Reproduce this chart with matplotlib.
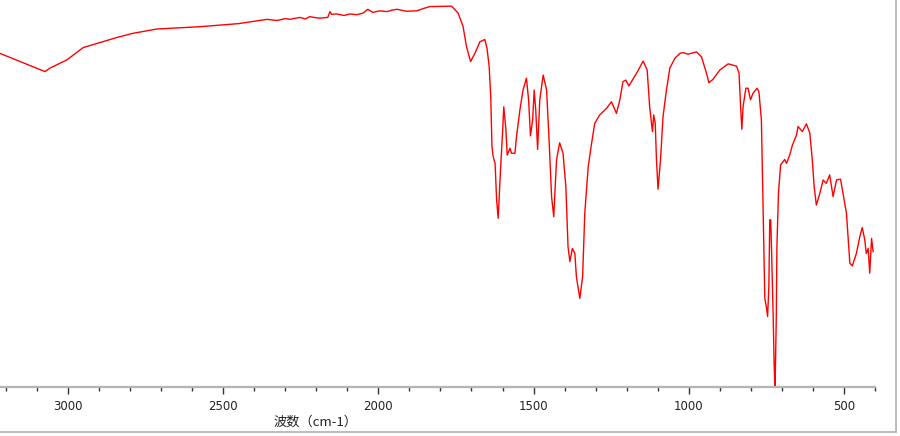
import matplotlib
matplotlib.use("Agg")
import matplotlib.pyplot as plt
from matplotlib.ticker import MultipleLocator
from matplotlib.lines import Line2D

plt.rcParams['font.family'] = ['Noto Sans CJK SC', 'DejaVu Sans']

# Wavenumber (cm-1) and transmittance (%)
wavenumber = [
    3219, 3074, 3058, 3004, 2951, 2897, 2843, 2790, 2714, 2575, 2450, 2359, 2327,
    2300, 2285, 2253, 2235, 2221, 2200, 2188, 2163, 2156, 2151, 2135, 2110, 2092,
    2070, 2050, 2034, 2018, 1995, 1973, 1955, 1940, 1910, 1876, 1855, 1834, 1764,
    1743, 1727, 1716, 1703, 1689, 1673, 1657, 1650, 1643, 1638, 1634, 1630, 1624,
    1619, 1614, 1606, 1600, 1596, 1589, 1585, 1576, 1571, 1560, 1555, 1544, 1534,
    1523, 1516, 1510, 1503, 1498, 1493, 1487, 1480, 1469, 1458, 1450, 1442, 1435,
    1426, 1416, 1405, 1396, 1389, 1383, 1375, 1367, 1362, 1351, 1342, 1335, 1324,
    1313, 1303, 1287, 1265, 1249, 1233, 1222, 1212, 1203, 1193, 1168, 1147, 1134,
    1126, 1117, 1113, 1108, 1104, 1099, 1091, 1083, 1072, 1061, 1045, 1029, 1018,
    1002, 975, 959, 943, 935, 922, 900, 873, 846, 838, 833, 829, 825, 816, 809,
    801, 793, 780, 774, 766, 761, 755, 750, 746, 742, 739, 736, 733, 728, 725,
    722, 718, 716, 711, 704, 691, 685, 675, 666, 653, 648, 634, 621, 610, 602,
    596, 589, 578, 567, 557, 546, 535, 524, 511, 503, 492, 481, 473, 460, 449,
    441, 433, 428, 422, 417, 411, 406,
]
transmittance = [
    86.2, 81.5, 82.4, 84.5, 87.7, 89.0, 90.3, 91.4, 92.5, 93.1, 93.9, 95.0, 94.7,
    95.2, 95.0, 95.5, 95.1, 95.7, 95.4, 95.3, 95.5, 97.0, 96.3, 96.4, 96.0, 96.4,
    96.2, 96.6, 97.6, 96.8, 97.2, 97.0, 97.4, 97.6, 97.1, 97.2, 97.8, 98.3, 98.4,
    96.6, 93.1, 87.9, 84.1, 86.2, 89.2, 89.8, 87.5, 82.8, 75.0, 62.1, 59.5, 57.8,
    48.3, 43.6, 56.9, 65.6, 72.4, 66.4, 59.9, 61.7, 60.4, 60.4, 64.7, 71.6, 76.7,
    79.8, 74.2, 64.9, 69.0, 76.7, 71.6, 61.4, 74.2, 80.6, 76.7, 63.8, 49.2, 44.0,
    58.7, 63.1, 60.4, 51.8, 36.3, 32.4, 35.8, 34.5, 28.5, 22.9, 28.5, 44.9, 56.9,
    63.0, 68.1, 70.3, 72.0, 73.7, 70.7, 74.2, 78.9, 79.3, 77.8, 81.1, 84.2, 81.9,
    72.4, 66.0, 70.3, 68.1, 58.7, 51.1, 58.7, 69.8, 76.7, 82.4, 84.9, 86.2, 86.4,
    86.0, 86.6, 85.3, 81.1, 78.6, 79.5, 81.9, 83.5, 82.9, 81.1, 72.4, 66.6, 72.4,
    77.2, 77.2, 74.2, 75.9, 77.2, 76.3, 69.0, 48.3, 22.9, 20.7, 18.2, 25.9, 43.2,
    43.2, 34.5, 18.2, 6.1, -0.8, 18.2, 36.3, 50.1, 57.4, 58.8, 57.8, 59.9, 62.5,
    65.1, 67.3, 66.0, 68.0, 65.6, 58.7, 51.8, 47.0, 50.0, 53.5, 52.6, 54.8, 49.2,
    53.5, 53.7, 50.0, 44.9, 32.0, 31.3, 34.5, 38.8, 41.2, 38.0, 34.5, 35.8, 29.4,
    38.4, 35.0,
]
major_ticks = [3000, 2500, 2000, 1500, 1000, 500]
xlabel_text = "波数（cm-1）"

W, H = 900, 436
fig = plt.figure(figsize=(W / 100, H / 100), dpi=100)
fig.patch.set_facecolor("white")

ax = fig.add_axes([0, (H - 387) / H, 875 / W, 387 / H])
ax.plot(wavenumber, transmittance, color="#ff0000", lw=1.0, antialiased=True)
ax.set_xlim(3219, 400)
ax.set_ylim(0, 100)

for s in ["top", "left", "right"]:
    ax.spines[s].set_visible(False)
ax.spines["bottom"].set_color("#b4b4b4")
ax.spines["bottom"].set_linewidth(1.6)
ax.set_yticks([])
ax.set_xticks(major_ticks)
ax.set_xticklabels([str(t) for t in major_ticks], fontsize=8.5, color="#222222",
                   family=["DejaVu Sans"])
ax.xaxis.set_minor_locator(MultipleLocator(100))
ax.tick_params(axis="x", which="major", direction="out", length=5, width=1,
               color="#333333", pad=4)
ax.tick_params(axis="x", which="minor", direction="out", length=3, width=1,
               color="#333333")
ax.patch.set_alpha(0)

fig.text(315 / W, 1 - 422 / H, xlabel_text, ha="center", va="center",
         fontsize=9.5, color="#222222")

# window frame at bottom and right
fig.add_artist(Line2D([0, 896 / W], [1 - 432 / H, 1 - 432 / H],
                      transform=fig.transFigure, color="#b0b0b0", lw=1.2))
fig.add_artist(Line2D([896 / W, 896 / W], [1 - 432 / H, 1],
                      transform=fig.transFigure, color="#b0b0b0", lw=1.2))

fig.savefig("out.png", dpi=100, facecolor="white")
